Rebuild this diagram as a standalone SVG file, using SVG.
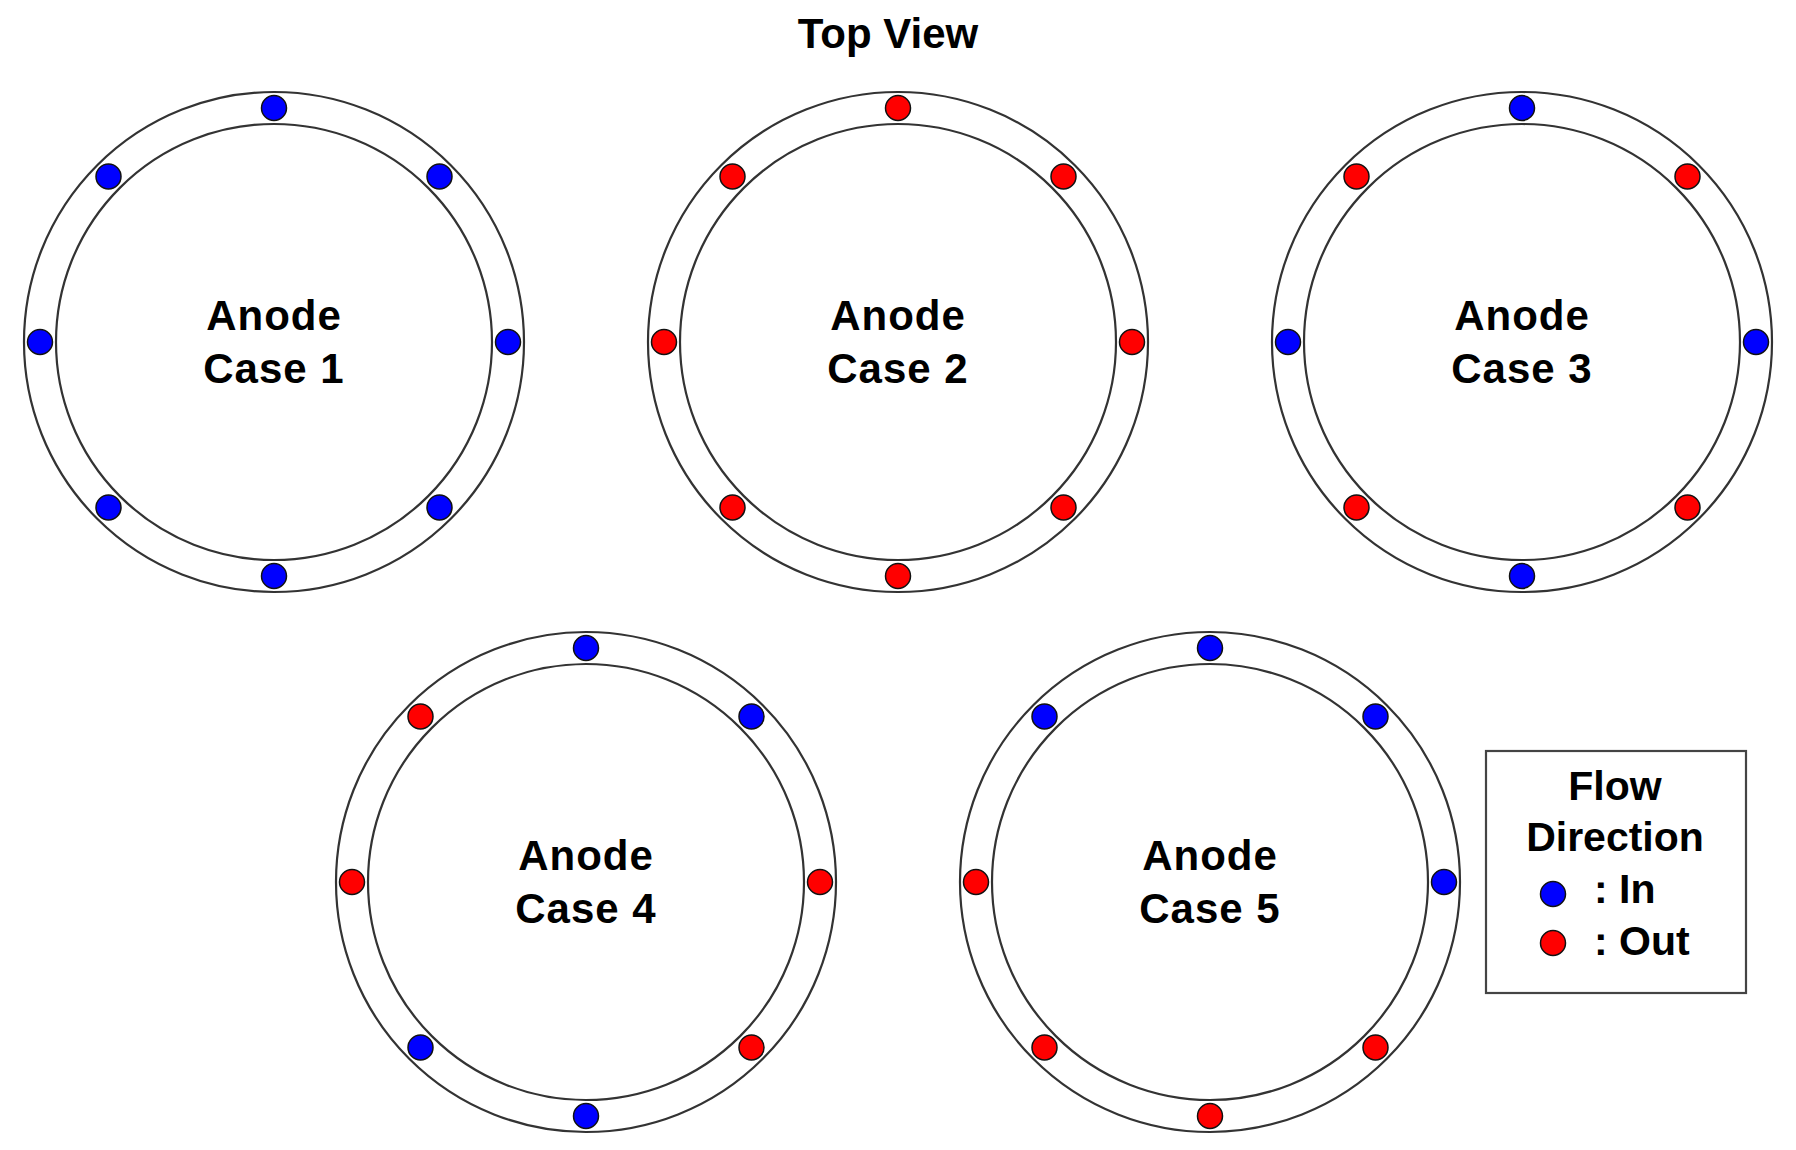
<svg xmlns="http://www.w3.org/2000/svg" width="1796" height="1150" viewBox="0 0 1796 1150">
<style>
.ring{fill:none;stroke:#333;stroke-width:2.2}
.in{fill:#0000ff;stroke:#111;stroke-width:1.5}
.out{fill:#ff0000;stroke:#111;stroke-width:1.5}
.lbl{font-family:"Liberation Sans",Arial,sans-serif;font-weight:bold;font-size:42px;fill:#000;text-anchor:middle;letter-spacing:1px}
.title{font-family:"Liberation Sans",Arial,sans-serif;font-weight:bold;font-size:42px;fill:#000;text-anchor:middle}
.leg{font-family:"Liberation Sans",Arial,sans-serif;font-weight:bold;font-size:41px;fill:#000}
</style>
<rect width="1796" height="1150" fill="#fff"/>
<text class="title" x="888" y="48">Top View</text>

<g id="case1" transform="translate(274,342)">
<circle class="ring" r="250"/><circle class="ring" r="218"/>
<circle class="in" cx="0" cy="-234" r="12.5"/>
<circle class="in" cx="165.5" cy="-165.5" r="12.5"/>
<circle class="in" cx="234" cy="0" r="12.5"/>
<circle class="in" cx="165.5" cy="165.5" r="12.5"/>
<circle class="in" cx="0" cy="234" r="12.5"/>
<circle class="in" cx="-165.5" cy="165.5" r="12.5"/>
<circle class="in" cx="-234" cy="0" r="12.5"/>
<circle class="in" cx="-165.5" cy="-165.5" r="12.5"/>
<text class="lbl" x="0" y="-12">Anode</text>
<text class="lbl" x="0" y="41">Case 1</text>
</g>

<g id="case2" transform="translate(898,342)">
<circle class="ring" r="250"/><circle class="ring" r="218"/>
<circle class="out" cx="0" cy="-234" r="12.5"/>
<circle class="out" cx="165.5" cy="-165.5" r="12.5"/>
<circle class="out" cx="234" cy="0" r="12.5"/>
<circle class="out" cx="165.5" cy="165.5" r="12.5"/>
<circle class="out" cx="0" cy="234" r="12.5"/>
<circle class="out" cx="-165.5" cy="165.5" r="12.5"/>
<circle class="out" cx="-234" cy="0" r="12.5"/>
<circle class="out" cx="-165.5" cy="-165.5" r="12.5"/>
<text class="lbl" x="0" y="-12">Anode</text>
<text class="lbl" x="0" y="41">Case 2</text>
</g>

<g id="case3" transform="translate(1522,342)">
<circle class="ring" r="250"/><circle class="ring" r="218"/>
<circle class="in" cx="0" cy="-234" r="12.5"/>
<circle class="out" cx="165.5" cy="-165.5" r="12.5"/>
<circle class="in" cx="234" cy="0" r="12.5"/>
<circle class="out" cx="165.5" cy="165.5" r="12.5"/>
<circle class="in" cx="0" cy="234" r="12.5"/>
<circle class="out" cx="-165.5" cy="165.5" r="12.5"/>
<circle class="in" cx="-234" cy="0" r="12.5"/>
<circle class="out" cx="-165.5" cy="-165.5" r="12.5"/>
<text class="lbl" x="0" y="-12">Anode</text>
<text class="lbl" x="0" y="41">Case 3</text>
</g>

<g id="case4" transform="translate(586,882)">
<circle class="ring" r="250"/><circle class="ring" r="218"/>
<circle class="in" cx="0" cy="-234" r="12.5"/>
<circle class="in" cx="165.5" cy="-165.5" r="12.5"/>
<circle class="out" cx="234" cy="0" r="12.5"/>
<circle class="out" cx="165.5" cy="165.5" r="12.5"/>
<circle class="in" cx="0" cy="234" r="12.5"/>
<circle class="in" cx="-165.5" cy="165.5" r="12.5"/>
<circle class="out" cx="-234" cy="0" r="12.5"/>
<circle class="out" cx="-165.5" cy="-165.5" r="12.5"/>
<text class="lbl" x="0" y="-12">Anode</text>
<text class="lbl" x="0" y="41">Case 4</text>
</g>

<g id="case5" transform="translate(1210,882)">
<circle class="ring" r="250"/><circle class="ring" r="218"/>
<circle class="in" cx="0" cy="-234" r="12.5"/>
<circle class="in" cx="165.5" cy="-165.5" r="12.5"/>
<circle class="in" cx="234" cy="0" r="12.5"/>
<circle class="out" cx="165.5" cy="165.5" r="12.5"/>
<circle class="out" cx="0" cy="234" r="12.5"/>
<circle class="out" cx="-165.5" cy="165.5" r="12.5"/>
<circle class="out" cx="-234" cy="0" r="12.5"/>
<circle class="in" cx="-165.5" cy="-165.5" r="12.5"/>
<text class="lbl" x="0" y="-12">Anode</text>
<text class="lbl" x="0" y="41">Case 5</text>
</g>

<g id="legend">
<rect x="1486" y="751" width="260" height="242" fill="#fff" stroke="#444" stroke-width="2.2"/>
<text class="leg" x="1615" y="800" text-anchor="middle">Flow</text>
<text class="leg" x="1615" y="851" text-anchor="middle">Direction</text>
<circle class="in" cx="1553" cy="894" r="12.5"/>
<text class="leg" x="1594" y="903">: In</text>
<circle class="out" cx="1553" cy="943" r="12.5"/>
<text class="leg" x="1594" y="955">: Out</text>
</g>

<g id="connectors"/>
</svg>
